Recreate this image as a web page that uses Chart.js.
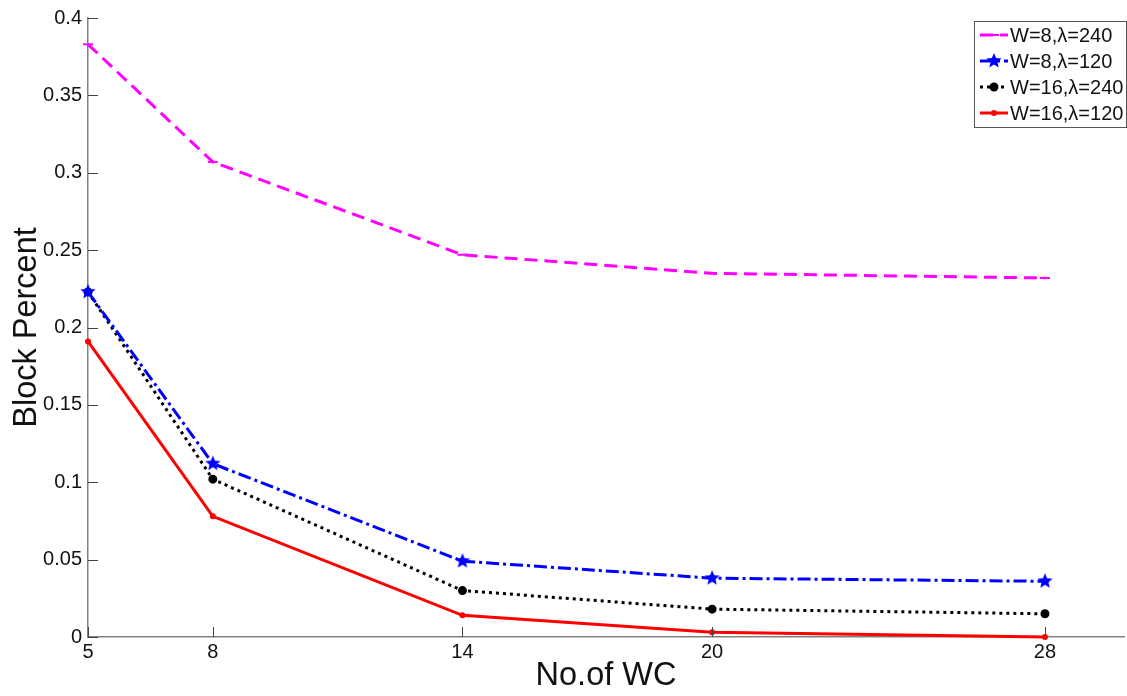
<!DOCTYPE html>
<html>
<head>
<meta charset="utf-8">
<script src="https://cdn.jsdelivr.net/npm/chart.js@4"></script>
<style>
  html, body { margin: 0; padding: 0; background: #fff; overflow: hidden; }
  #wrap { width: 1127px; height: 696px; overflow: hidden; }
</style>
</head>
<body>
<div id="wrap"><canvas id="chart" width="1134" height="696"></canvas></div>
<script>
// values
const wcCounts = [5, 8, 14, 20, 28];
const xTicks = [5, 8, 14, 20, 28];
const yTicks = [0, 0.05, 0.1, 0.15, 0.2, 0.25, 0.3, 0.35, 0.4];

const seriesNames = ['W=8,\u03bb=240', 'W=8,\u03bb=120', 'W=16,\u03bb=240', 'W=16,\u03bb=120'];
const w8l240 = [0.383, 0.307, 0.247, 0.235, 0.232];
const w8l120 = [0.223, 0.112, 0.049, 0.038, 0.036];
const w16l240 = [0.223, 0.102, 0.030, 0.018, 0.015];
const w16l120 = [0.191, 0.078, 0.014, 0.003, 0.000];

const FONT = 'Liberation Sans, Arial, sans-serif';
const AXIS_GRAY = '#808080';

function toPoints(vals) {
  return vals.map((v, i) => ({ x: wcCounts[i], y: v }));
}

// five pointed star marker (the built-in 'star' is an asterisk)
function starImage(color, r) {
  const c = document.createElement('canvas');
  const s = Math.ceil(r * 2 + 2);
  c.width = s; c.height = s;
  const g = c.getContext('2d');
  g.fillStyle = color;
  g.beginPath();
  for (let k = 0; k < 10; k++) {
    const rad = k % 2 === 0 ? r : r * 0.45;
    const a = -Math.PI / 2 + k * Math.PI / 5;
    const px = s / 2 + rad * Math.cos(a), py = s / 2 + rad * Math.sin(a);
    k === 0 ? g.moveTo(px, py) : g.lineTo(px, py);
  }
  g.closePath();
  g.fill();
  return c;
}
const blueStar = starImage('#0000ff', 8);

const styles = [
  { color: '#ff00ff', dash: [13, 7], point: 'line', radius: 5 },
  { color: '#0000ff', dash: [13, 4, 3, 4], point: blueStar, radius: 8 },
  { color: '#000000', dash: [3, 4], point: 'circle', radius: 3.5 },
  { color: '#ff0000', dash: [], point: 'circle', radius: 2 }
];
const seriesValues = [w8l240, w8l120, w16l240, w16l120];

const datasets = seriesValues.map((vals, i) => ({
  label: seriesNames[i],
  data: toPoints(vals),
  borderColor: styles[i].color,
  backgroundColor: styles[i].color,
  borderWidth: 3,
  borderDash: styles[i].dash,
  pointStyle: styles[i].point,
  pointRadius: styles[i].radius,
  pointBorderWidth: 2,
  pointBorderColor: styles[i].color,
  pointBackgroundColor: styles[i].color,
  tension: 0,
  clip: false
}));

// inward tick marks like the original figure
const innerTicks = {
  id: 'innerTicks',
  afterDatasetsDraw(chart) {
    const { ctx, scales: { x, y } } = chart;
    ctx.save();
    ctx.strokeStyle = '#444';
    ctx.lineWidth = 1;
    xTicks.forEach(v => {
      const px = Math.round(x.getPixelForValue(v)) + 0.5;
      ctx.beginPath();
      ctx.moveTo(px, y.bottom);
      ctx.lineTo(px, y.bottom - 10);
      ctx.stroke();
    });
    yTicks.forEach(v => {
      const py = Math.round(y.getPixelForValue(v)) + 0.5;
      ctx.beginPath();
      ctx.moveTo(x.left, py);
      ctx.lineTo(x.left + 10, py);
      ctx.stroke();
    });
    ctx.restore();
  }
};

// legend box drawn inside the plot, top right
const boxLegend = {
  id: 'boxLegend',
  afterDraw(chart) {
    const { ctx } = chart;
    const left = 974, top = 21, w = 152, h = 106;
    const rows = [35, 61, 87, 113];
    ctx.save();
    ctx.fillStyle = '#fff';
    ctx.fillRect(left, top, w, h);
    ctx.strokeStyle = '#555';
    ctx.lineWidth = 1;
    ctx.strokeRect(left + 0.5, top + 0.5, w, h);
    chart.data.datasets.forEach((ds, i) => {
      const yy = rows[i];
      ctx.strokeStyle = ds.borderColor;
      ctx.lineWidth = 3;
      ctx.setLineDash(ds.borderDash);
      ctx.beginPath();
      ctx.moveTo(980, yy);
      ctx.lineTo(1008, yy);
      ctx.stroke();
      ctx.setLineDash([]);
      ctx.fillStyle = ds.pointBackgroundColor;
      ctx.strokeStyle = ds.pointBorderColor;
      ctx.lineWidth = ds.pointBorderWidth;
      Chart.helpers.drawPoint(ctx, {
        pointStyle: ds.pointStyle,
        radius: ds.pointRadius,
        borderWidth: ds.pointBorderWidth,
        rotation: 0
      }, 994, yy);
      ctx.fillStyle = '#111';
      ctx.font = '20px ' + FONT;
      ctx.textBaseline = 'middle';
      ctx.textAlign = 'left';
      ctx.fillText(ds.label, 1010, yy + 1);
    });
    ctx.restore();
  }
};

new Chart(document.getElementById('chart'), {
  type: 'line',
  data: { datasets },
  options: {
    responsive: false,
    animation: false,
    layout: { padding: { top: 16, right: 0, left: 0, bottom: 0 } },
    plugins: { legend: { display: false }, tooltip: { enabled: false } },
    scales: {
      x: {
        type: 'linear',
        min: 5,
        max: 29.9,
        afterBuildTicks: s => { s.ticks = xTicks.map(v => ({ value: v })); },
        afterFit: s => { s.height = 59; },
        grid: { display: false, drawTicks: false },
        border: { display: true, color: AXIS_GRAY, width: 1.5 },
        ticks: { color: '#111', font: { size: 20, family: FONT }, padding: 3, maxRotation: 0 },
        title: {
          display: true,
          text: 'No.of WC',
          color: '#111',
          font: { size: 32.5, family: FONT },
          padding: { top: 0, bottom: 0 }
        }
      },
      y: {
        min: 0,
        max: 0.4,
        afterBuildTicks: s => { s.ticks = yTicks.map(v => ({ value: v })); },
        afterFit: s => { s.width = 88; },
        grid: { display: false, drawTicks: false },
        border: { display: true, color: AXIS_GRAY, width: 1.5 },
        ticks: {
          color: '#111',
          font: { size: 20, family: FONT },
          padding: 6,
          callback: v => String(+v.toFixed(2))
        },
        title: {
          display: true,
          text: 'Block Percent',
          color: '#111',
          font: { size: 32.5, family: FONT },
          padding: { top: 8, bottom: 0 }
        }
      }
    }
  },
  plugins: [innerTicks, boxLegend]
});
</script>
</body>
</html>
